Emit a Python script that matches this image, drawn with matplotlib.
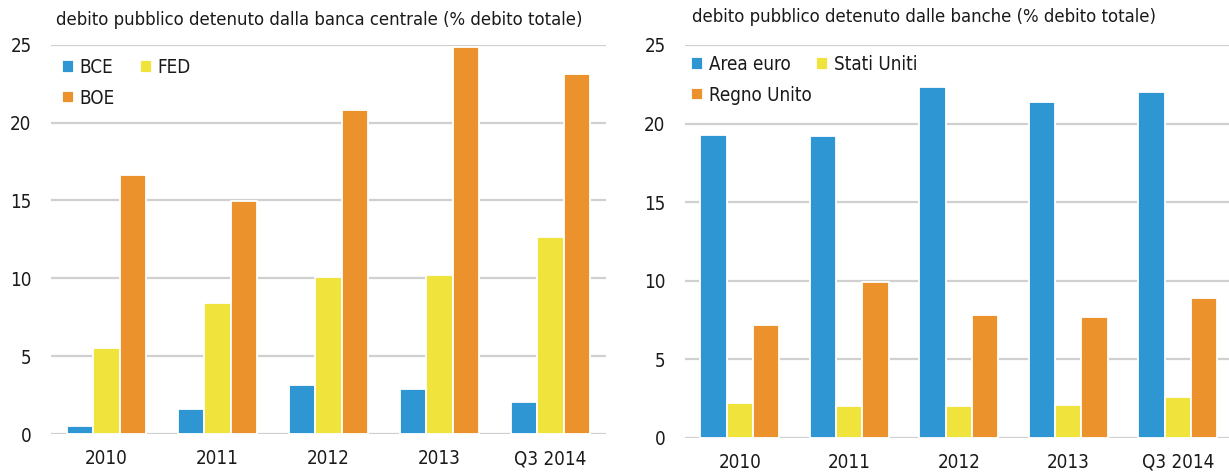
import matplotlib.pyplot as plt
import numpy as np

plt.rcParams['font.family'] = ['DejaVu Sans']
plt.rcParams['font.stretch'] = 'condensed'

years = ["2010", "2011", "2012", "2013", "Q3 2014"]

# banca centrale
bce = [0.5, 1.6, 3.15, 2.9, 2.03]
fed = [5.5, 8.4, 10.1, 10.2, 12.65]
boe = [16.65, 14.97, 20.8, 24.83, 23.15]

# banche
area_euro = [19.3, 19.2, 22.3, 21.4, 22.0]
stati_uniti = [2.2, 2.0, 2.0, 2.1, 2.6]
regno_unito = [7.2, 9.9, 7.8, 7.7, 8.9]

BLUE = "#2e96d3"
YELLOW = "#f0e43c"
ORANGE = "#eb922c"
GRID = "#d0d0d0"
TXT = "#1a1a1a"

W, H = 1229, 473
fig = plt.figure(figsize=(W / 100, H / 100), dpi=100)


def px_axes(x0, x1, ytop, ybot):
    return fig.add_axes([x0 / W, 1 - ybot / H, (x1 - x0) / W, (ybot - ytop) / H])


ax1 = px_axes(51, 606, 44.7, 434)
ax2 = px_axes(685, 1232.5, 45, 437.7)


def draw(ax, series, labels, legx, legy, colsp):
    x = np.arange(len(years))
    w = 0.24
    cols = [BLUE, YELLOW, ORANGE]
    bars = []
    for i, (vals, c) in enumerate(zip(series, cols)):
        b = ax.bar(x + (i - 1) * w, vals, w, color=c, edgecolor="white",
                   linewidth=1.3, zorder=3)
        bars.append(b)
    ax.set_xlim(-0.5, 4.5)
    ax.set_ylim(0, 25)
    ax.set_yticks([0, 5, 10, 15, 20, 25])
    ax.set_xticks(x)
    ax.set_xticklabels(years)
    ax.grid(axis="y", color=GRID, linewidth=1.6, zorder=0)
    ax.set_axisbelow(True)
    for s in ax.spines.values():
        s.set_visible(False)
    ax.tick_params(length=0, labelsize=13.5, colors=TXT)
    ax.tick_params(axis="y", pad=14)
    ax.tick_params(axis="x", pad=11)
    # row-major order: first, second / third
    h = [bars[0], bars[2], bars[1]]
    l = [labels[0], labels[2], labels[1]]
    leg = fig.legend(h, l, ncol=2, loc="upper left",
                     bbox_to_anchor=(legx / W, 1 - legy / H),
                     frameon=False, fontsize=13.5, handlelength=0.65,
                     handleheight=0.65, handletextpad=0.3, columnspacing=colsp,
                     labelspacing=0.62, borderaxespad=0, borderpad=0)
    for t in leg.get_texts():
        t.set_color(TXT)


draw(ax1, [bce, fed, boe], ["BCE", "FED", "BOE"], 62, 58, 1.33)
draw(ax2, [area_euro, stati_uniti, regno_unito],
     ["Area euro", "Stati Uniti", "Regno Unito"], 691, 55, 0.25)

fig.text(56 / W, 1 - 20 / H, "debito pubblico detenuto dalla banca centrale (% debito totale)",
         fontsize=13.2, color=TXT, va="center")
fig.text(692 / W, 1 - 17 / H, "debito pubblico detenuto dalle banche (% debito totale)",
         fontsize=13.2, color=TXT, va="center")

fig.savefig("out.png", dpi=100)
